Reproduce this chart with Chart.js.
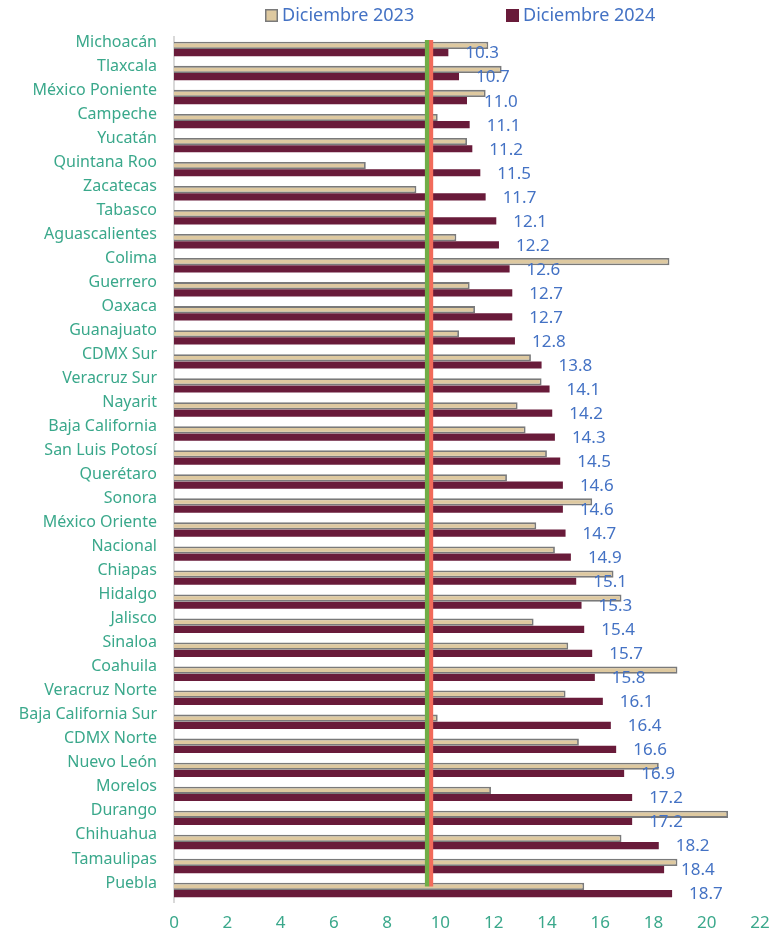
<!DOCTYPE html>
<html>
<head>
<meta charset="utf-8">
<script src="https://cdn.jsdelivr.net/npm/chart.js@4.4.1/dist/chart.umd.min.js"></script>
<style>
  html, body { margin: 0; padding: 0; background: #ffffff; }
  #wrap { width: 779px; height: 930px; position: relative; }
</style>
</head>
<body>
<div id="wrap"><canvas id="c" width="779" height="930"></canvas></div>
<script>
const categories = [
  "Michoacán", "Tlaxcala", "México Poniente", "Campeche", "Yucatán", "Quintana Roo",
  "Zacatecas", "Tabasco", "Aguascalientes", "Colima", "Guerrero", "Oaxaca",
  "Guanajuato", "CDMX Sur", "Veracruz Sur", "Nayarit", "Baja California", "San Luis Potosí",
  "Querétaro", "Sonora", "México Oriente", "Nacional", "Chiapas", "Hidalgo",
  "Jalisco", "Sinaloa", "Coahuila", "Veracruz Norte", "Baja California Sur", "CDMX Norte",
  "Nuevo León", "Morelos", "Durango", "Chihuahua", "Tamaulipas", "Puebla"
];
const seriesNames = ["Diciembre 2023", "Diciembre 2024"];
const dic2023 = [
  11.8, 12.3, 11.7, 9.9, 11.0, 7.2,
  9.1, 9.7, 10.6, 18.6, 11.1, 11.3,
  10.7, 13.4, 13.8, 12.9, 13.2, 14.0,
  12.5, 15.7, 13.6, 14.3, 16.5, 16.8,
  13.5, 14.8, 18.9, 14.7, 9.9, 15.2,
  18.2, 11.9, 20.8, 16.8, 18.9, 15.4
];
const dic2024 = [
  10.3, 10.7, 11.0, 11.1, 11.2, 11.5,
  11.7, 12.1, 12.2, 12.6, 12.7, 12.7,
  12.8, 13.8, 14.1, 14.2, 14.3, 14.5,
  14.6, 14.6, 14.7, 14.9, 15.1, 15.3,
  15.4, 15.7, 15.8, 16.1, 16.4, 16.6,
  16.9, 17.2, 17.2, 18.2, 18.4, 18.7
];
const xTicks = [0, 2, 4, 6, 8, 10, 12, 14, 16, 18, 20, 22];
const referenceLines = [9.5, 9.65];

const C_TAN = "#DEC9A0";
const C_TAN_BORDER = "#7A7A7A";
const C_MAROON = "#691B3A";
const C_BLUE = "#4472C4";
const C_TEAL = "#3AA88B";
const FONT = "'Noto Sans', 'Open Sans', sans-serif";

const refLinePlugin = {
  id: "refLines",
  afterDatasetsDraw(chart) {
    const { ctx, scales: { x, y } } = chart;
    const top = y.getPixelForValue(-0.38);
    const bottom = y.getPixelForValue(34.85);
    const colors = ["#70AD47", "#F26B5B"];
    ctx.save();
    ctx.lineWidth = 4.3;
    [1, 0].forEach(i => {
      const px = x.getPixelForValue(referenceLines[i]);
      ctx.strokeStyle = colors[i];
      ctx.beginPath();
      ctx.moveTo(px, top);
      ctx.lineTo(px, bottom);
      ctx.stroke();
    });
    ctx.restore();
  }
};

const dataLabelPlugin = {
  id: "dataLabels",
  afterDraw(chart) {
    const { ctx } = chart;
    const meta = chart.getDatasetMeta(1);
    ctx.save();
    ctx.font = "17px " + FONT;
    ctx.fillStyle = C_BLUE;
    ctx.textAlign = "left";
    ctx.textBaseline = "middle";
    meta.data.forEach((el, i) => {
      ctx.fillText(dic2024[i].toFixed(1), el.x + 17, el.y + 1);
    });
    ctx.restore();
  }
};

const legendPlugin = {
  id: "customLegend",
  afterDraw(chart) {
    const { ctx } = chart;
    const items = [
      { text: seriesNames[0], fill: C_TAN, stroke: C_TAN_BORDER, bx: 265 },
      { text: seriesNames[1], fill: C_MAROON, stroke: null, bx: 506 }
    ];
    ctx.save();
    ctx.font = "18px " + FONT;
    ctx.textAlign = "left";
    ctx.textBaseline = "middle";
    items.forEach(it => {
      ctx.fillStyle = it.fill;
      ctx.fillRect(it.bx, 9, 13, 13);
      if (it.stroke) {
        ctx.strokeStyle = it.stroke;
        ctx.lineWidth = 1.5;
        ctx.strokeRect(it.bx + 0.75, 9.75, 11.5, 11.5);
      }
      ctx.fillStyle = C_BLUE;
      ctx.fillText(it.text, it.bx + 17, 15.5);
    });
    ctx.restore();
  }
};

new Chart(document.getElementById("c"), {
  type: "bar",
  data: {
    labels: categories,
    datasets: [
      {
        label: seriesNames[0],
        data: dic2023,
        backgroundColor: C_TAN,
        borderColor: C_TAN_BORDER,
        borderWidth: 1.8,
        categoryPercentage: 0.6,
        barPercentage: 1.0
      },
      {
        label: seriesNames[1],
        data: dic2024,
        backgroundColor: C_MAROON,
        borderWidth: 0,
        categoryPercentage: 0.6,
        barPercentage: 1.0
      }
    ]
  },
  options: {
    indexAxis: "y",
    responsive: false,
    animation: false,
    devicePixelRatio: 1,
    layout: { padding: { top: 37, right: 19, bottom: 0, left: 0 } },
    plugins: {
      legend: { display: false },
      tooltip: { enabled: false }
    },
    scales: {
      x: {
        type: "linear",
        min: xTicks[0],
        max: xTicks[xTicks.length - 1],
        afterBuildTicks(scale) { scale.ticks = xTicks.map(v => ({ value: v })); },
        afterFit(scale) { scale.height = 28; },
        grid: { display: false, drawTicks: false },
        border: { display: false },
        ticks: {
          color: C_TEAL,
          font: { family: FONT, size: 17, lineHeight: 1.6 },
          padding: 8,
          maxRotation: 0
        }
      },
      y: {
        type: "category",
        afterFit(scale) { scale.width = 174; },
        grid: { display: false, drawTicks: false },
        border: { display: true, color: "#D9D9D9", width: 2 },
        ticks: {
          color: C_TEAL,
          font: { family: FONT, size: 16 },
          padding: 17,
          labelOffset: -7,
          autoSkip: false
        }
      }
    }
  },
  plugins: [refLinePlugin, dataLabelPlugin, legendPlugin]
});
</script>
</body>
</html>
